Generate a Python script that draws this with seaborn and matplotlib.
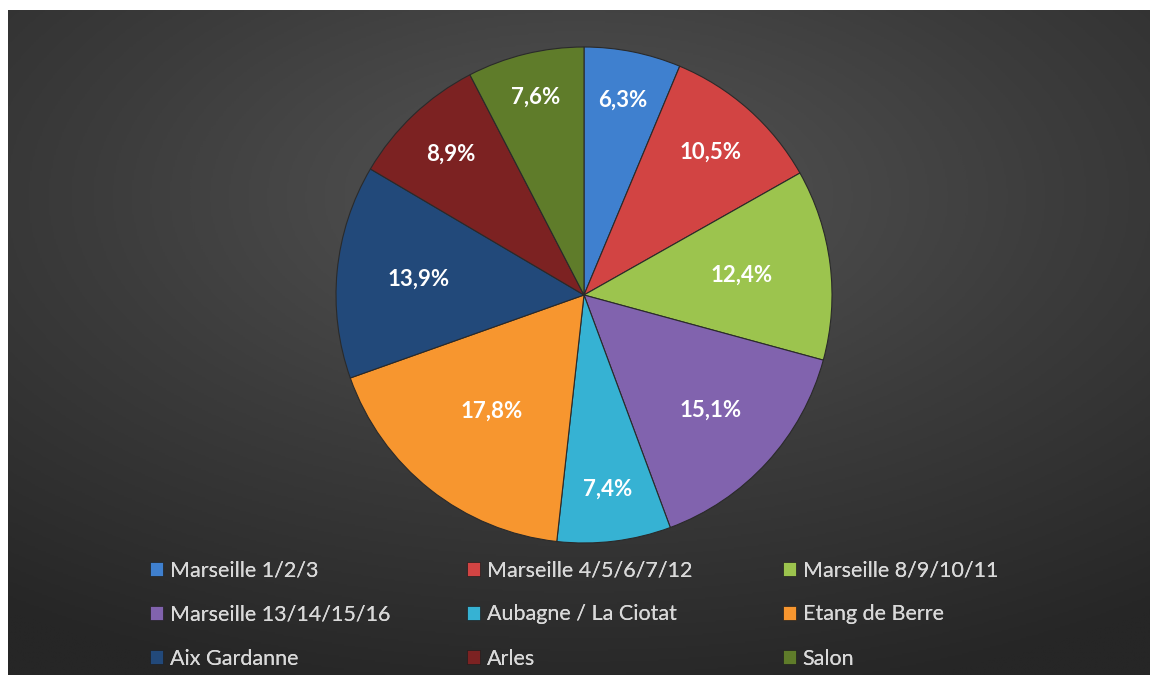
import numpy as np
import matplotlib
matplotlib.use('Agg')
import matplotlib.pyplot as plt
from matplotlib.patches import Patch
import seaborn as sns

# Données
secteurs = ['Marseille 1/2/3', 'Marseille 4/5/6/7/12', 'Marseille 8/9/10/11',
            'Marseille 13/14/15/16', 'Aubagne / La Ciotat', 'Etang de Berre',
            'Aix Gardanne', 'Arles', 'Salon']
parts = [6.3, 10.5, 12.4, 15.1, 7.4, 17.8, 13.9, 8.9, 7.6]
couleurs = ['#3f80cf', '#d24443', '#9cc44e', '#8163ae', '#36b2d3',
            '#f7962f', '#22497a', '#7c2222', '#5f7c2a']

sns.set_theme(style='dark')
plt.rcParams['font.family'] = ['Lato', 'DejaVu Sans']

fig = plt.figure(figsize=(11.51, 6.75), dpi=100, facecolor='white')

# fond sombre avec dégradé radial
bg = fig.add_axes([8 / 1151, 0, 1142 / 1151, 665 / 675])
yy, xx = np.mgrid[0:1:400j, 0:1:700j]
d = np.sqrt(((xx - 0.5) * 1.0) ** 2 + ((yy - 0.72) * 1.1) ** 2)
d = np.clip(d / 0.85, 0, 1)
bg.imshow(d, cmap=sns.blend_palette(['#555555', '#3c3c3c', '#262626'], as_cmap=True),
          aspect='auto', extent=[0, 1, 0, 1], origin='lower', interpolation='bilinear')
bg.set_axis_off()

ax = fig.add_axes([(584 - 248) / 1151, (675 - 295 - 248) / 675, 496 / 1151, 496 / 675])
ax.set_facecolor('none')
wedges, texts, autotexts = ax.pie(
    parts, colors=sns.color_palette(couleurs), startangle=90, counterclock=False,
    autopct=lambda p: f'{p:.1f}%'.replace('.', ','), pctdistance=0.72,
    wedgeprops=dict(edgecolor='#2a2a2a', linewidth=0.8),
    textprops=dict(color='white', fontsize=16, fontweight='bold'))

# position des étiquettes façon Excel (plus loin pour les petites parts)
dist = [0.80, 0.77, 0.64, 0.69, 0.79, 0.60, 0.67, 0.78, 0.82]
for w, t, r in zip(wedges, autotexts, dist):
    a = np.deg2rad((w.theta1 + w.theta2) / 2)
    t.set_position((r * np.cos(a), r * np.sin(a)))

ax.set_xlim(-1, 1)
ax.set_ylim(-1, 1)
ax.set_aspect('equal')
ax.set_axis_off()

# légende : 3 colonnes, remplie ligne par ligne
col_x = [131, 448, 764]
for c, x0 in enumerate(col_x):
    idx = [c, c + 3, c + 6]
    handles = [Patch(facecolor=couleurs[i], edgecolor='#202020', linewidth=0.5) for i in idx]
    leg = fig.legend(handles, [secteurs[i] for i in idx], loc='upper left',
                     bbox_to_anchor=(x0 / 1151, 1 - 541 / 675), frameon=False,
                     fontsize=15.5, labelcolor='#d9d9d9', handlelength=0.6,
                     handleheight=0.6, handletextpad=0.3, labelspacing=1.12)
    fig.add_artist(leg)

fig.savefig('out.png', dpi=100, facecolor='white')
